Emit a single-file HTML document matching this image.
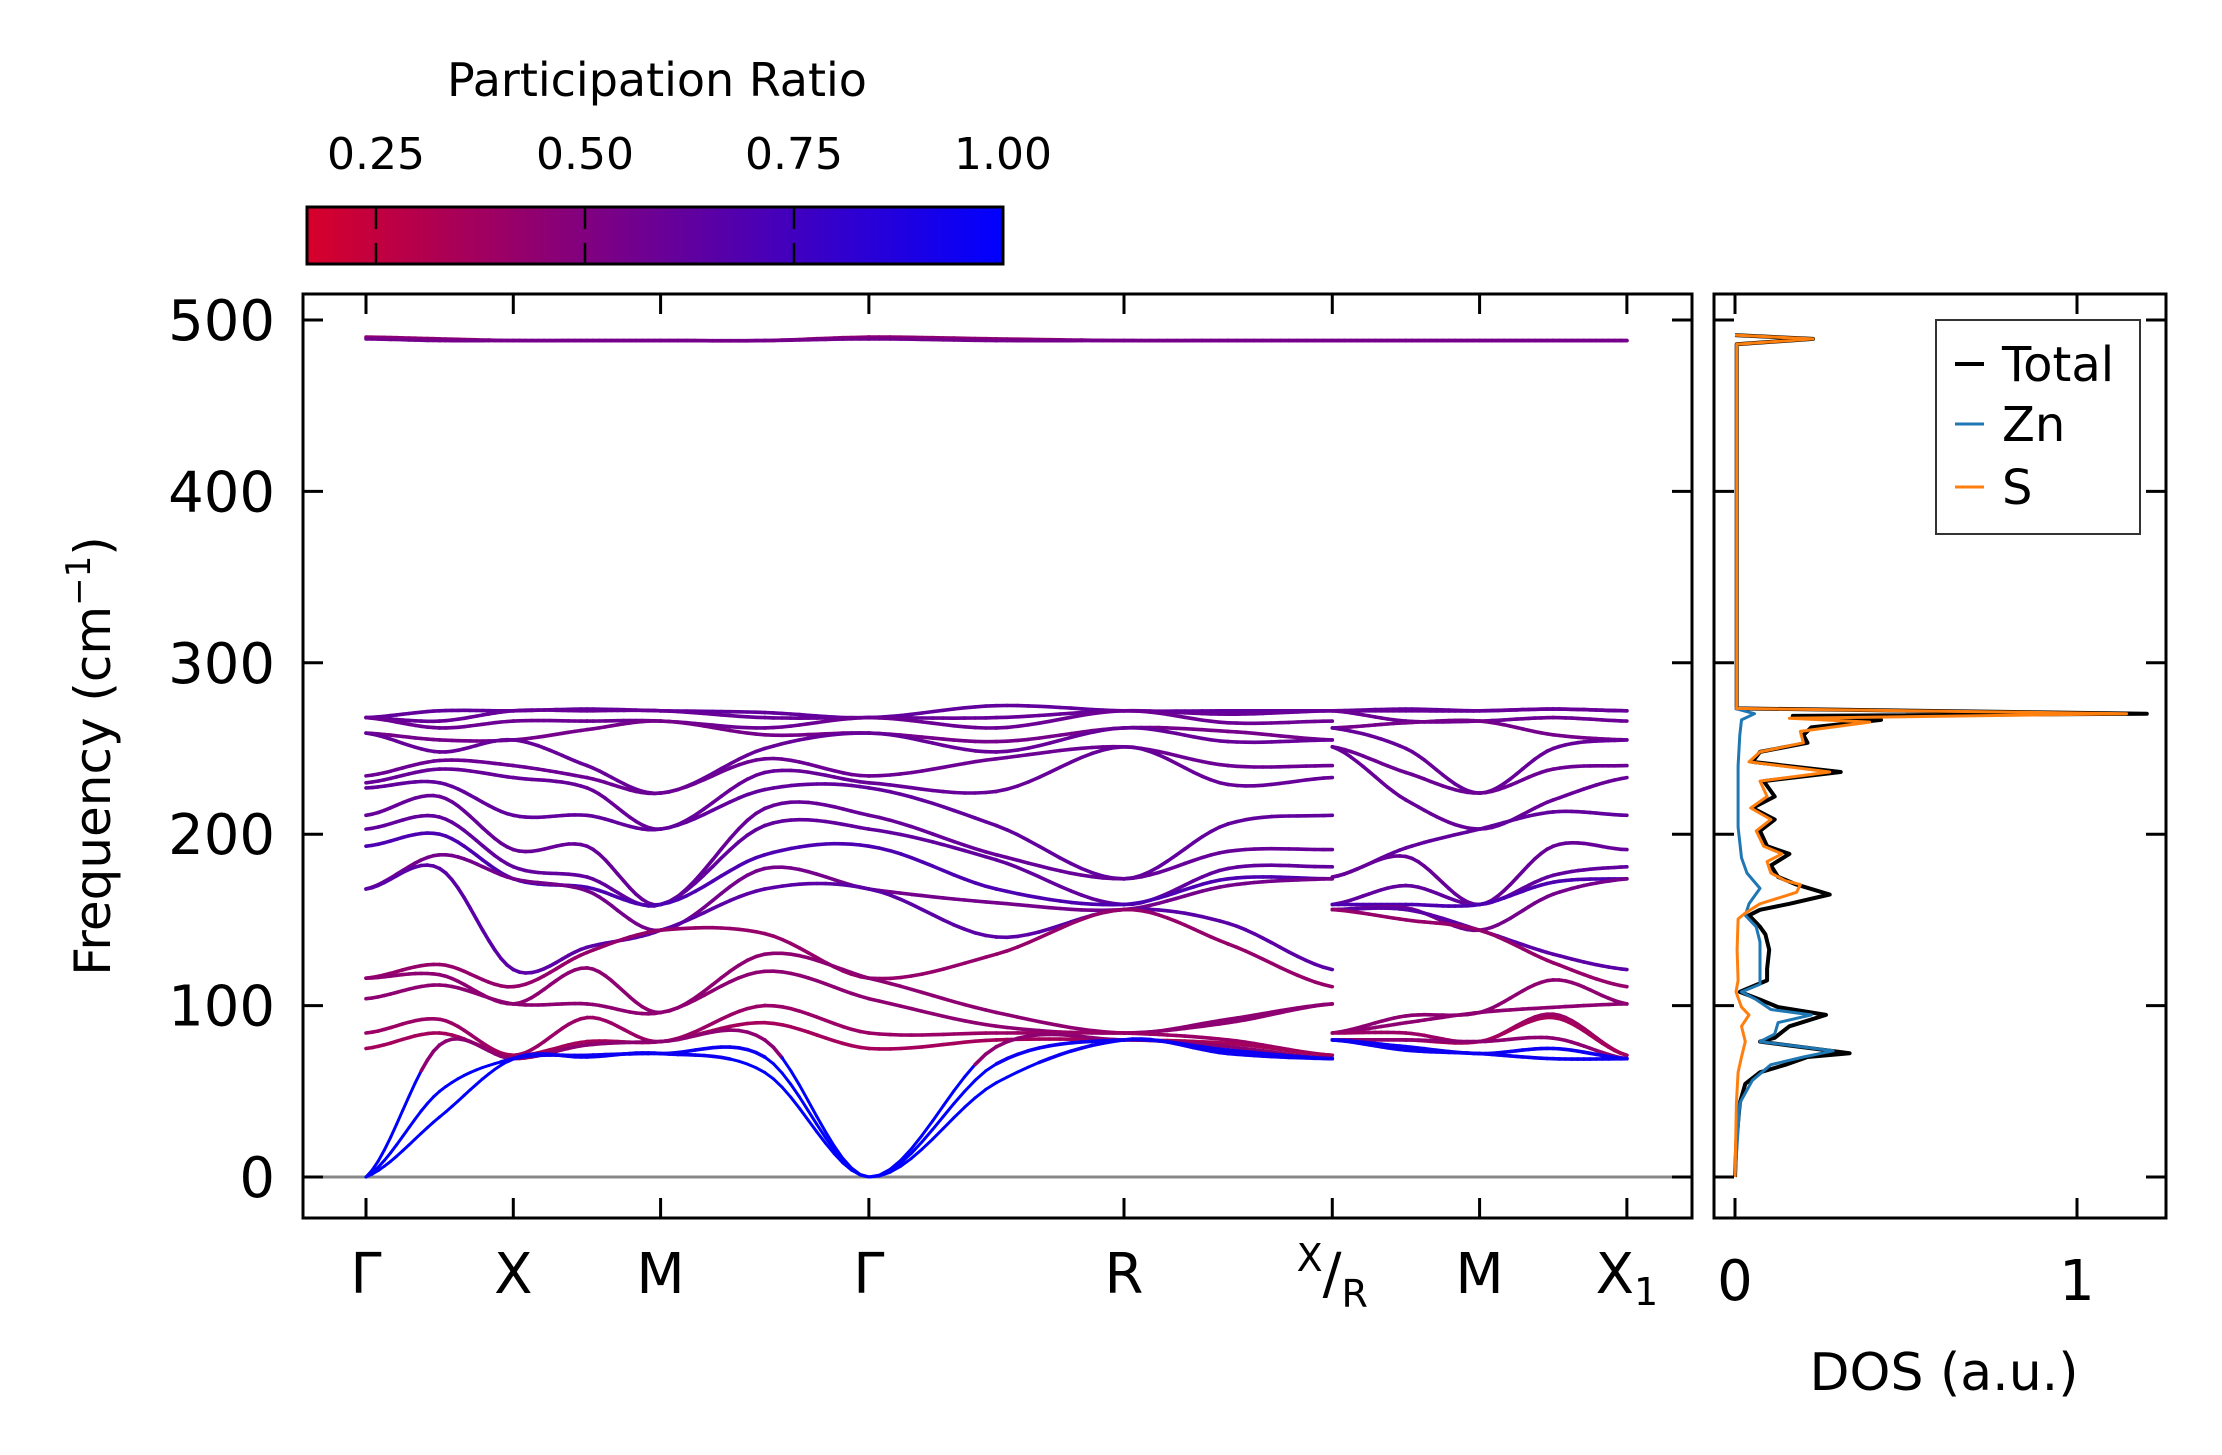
<!DOCTYPE html>
<html><head><meta charset="utf-8"><style>
html,body{margin:0;padding:0;background:#fff}
svg{display:block;font-family:"DejaVu Sans","Liberation Sans",sans-serif}
</style></head><body>
<svg id="fig" width="2222" height="1455" viewBox="0 0 2222 1455" xmlns="http://www.w3.org/2000/svg">
<defs>
<linearGradient id="cmap" x1="0" x2="1" y1="0" y2="0">
<stop offset="0" stop-color="rgb(215,0,42)"/><stop offset="1" stop-color="rgb(0,0,255)"/>
</linearGradient>
<clipPath id="mainclip"><rect x="303" y="294" width="1389" height="924"/></clipPath>
<clipPath id="dosclip"><rect x="1714" y="294" width="452" height="924"/></clipPath>
</defs>
<g>
<text x="657" y="96" font-size="46" text-anchor="middle">Participation Ratio</text>
<rect x="307" y="207" width="696" height="57" fill="url(#cmap)" stroke="#000" stroke-width="3"/>
<g id="cbticks"></g>
</g>
<g id="main">
<line x1="303" x2="1692" y1="1177" y2="1177" stroke="#888" stroke-width="3"/>
<g id="bands" clip-path="url(#mainclip)"></g>
<rect x="303" y="294" width="1389" height="924" fill="none" stroke="#000" stroke-width="3"/>
<g id="mainticks"></g>
<text transform="translate(110,756) rotate(-90)" font-size="50" text-anchor="middle">Frequency (cm<tspan dy="-20" font-size="34">−1</tspan><tspan dy="20">)</tspan></text>
</g>
<g id="dos">
<g id="doslines" clip-path="url(#dosclip)"></g>
<rect x="1714" y="294" width="452" height="924" fill="none" stroke="#000" stroke-width="3"/>
<g id="dosticks"></g>
<text x="1944" y="1390" font-size="52" text-anchor="middle">DOS (a.u.)</text>
<g>
<rect x="1936" y="320" width="204" height="214" fill="#fff" stroke="#333" stroke-width="2"/>
<line x1="1955" x2="1984" y1="364" y2="364" stroke="#000" stroke-width="4"/>
<text x="2002" y="381" font-size="48">Total</text>
<line x1="1955" x2="1984" y1="424" y2="424" stroke="#1f77b4" stroke-width="3"/>
<text x="2002" y="441" font-size="48">Zn</text>
<line x1="1955" x2="1984" y1="487" y2="487" stroke="#ff7f0e" stroke-width="3"/>
<text x="2002" y="504" font-size="48">S</text>
</g>
</g>
</svg>
<script>
const NS="http://www.w3.org/2000/svg";
// ---- data ----
const kNodes=[0,0.5,1,1.5,2,2.707,3.414,4.28,5.146,5.853,6.56,6.56,7.06,7.56,8.06,8.56];
const kTickPos=[0,1,2,3.414,5.146,6.56,7.56,8.56];
const kTickLabels=["Γ","X","M","Γ","R","X/R","M","X1"];
const yTicks=[0,100,200,300,400,500];
const cbTicks=[0.25,0.5,0.75,1.0];
const cbTickLabels=["0.25","0.50","0.75","1.00"];
const dosTicks=[0,1];
// sorted frequencies per node (Γ,m,X,m,M,m,Γ,m,R,m,X | R,m,M,m,X1)
const bandG=[268,268,268,259,259,234,230,227,211,203,193,168,168,116,116,104,84,75,0,0,0];
const bandMGX=[272,266,262,255,248,243,238,230,222,210,200,188,180,124,118,112,92,84,77,50,35];
const bandX=[272,272,266,255,255,240,233,211,191,181,174,174,121,111,101,101,71,71,69,69,69];
const bandMXM=[273,272,266,261,240,233,227,211,193,175,169,167,134,131,122,101,93,79,77,71,70];
const bandM=[272,272,266,266,224,224,203,203,159,159,159,144,144,144,96,96,79,79,79,72,72];
const bandMMG=[271,268,262,258,250,244,236,226,215,205,188,180,168,142,130,120,100,90,80,70,61];
const bandMGR=[275,268,262,254,248,244,225,205,188,185,168,160,140,130,96,88,84,80,76,66,55];
const bandR=[272,272,272,262,262,251,251,174,174,159,159,156,156,156,84,84,84,80,80,80,80];
const bandMRX=[272,270,265,260,254,240,229,206,190,180,174,170,148,136,92,90,80,78,76,74,72];
const bandR2=[272,272,272,262,262,251,251,175,175,159,159,156,156,156,84,84,84,80,80,80,80];
const bandMRM=[273,272,266,265,250,236,220,192,187,170,159,157,156,150,94,90,84,80,80,76,74];
const bandMMX=[273,273,268,258,250,238,220,213,193,176,172,165,130,125,115,99,95,93,81,75,69];
const topBands=[[490,489,488,488,488,488,490,489,488,488,488,488,488,488,488,488],
                [489,488,488,488,488,488,489,488,488,488,488,488,488,488,488,488]];
const bandPR=[0.62,0.6,0.58,0.55,0.6,0.58,0.6,0.62,0.6,0.62,0.7,0.55,0.65,0.42,0.45,0.45,0.4,0.36,0.45,0.95,0.95];
const topPR=[0.45,0.55];
// DOS
const dosTotF=[0,20.8,43.2,54.4,61.1,65.5,70,72.2,76.7,79,81.2,87.9,94.6,99.1,103.5,108,114.7,121.4,132.6,141.6,146,152.7,155.9,159.4,164.8,170.6,175.1,181.8,188.5,193,201.9,208.6,215.3,222,231,236.3,242.2,248,253.3,257.8,262.3,266.7,269,270.3,273.4,485.8,489,491.2];
const dosTotV=[0,.004,.014,.03,.073,.148,.212,.335,.159,.073,.116,.159,.266,.126,.073,.014,.094,.094,.1,.089,.073,.041,.073,.159,.277,.18,.126,.105,.159,.094,.073,.116,.051,.116,.084,.309,.051,.073,.212,.2,.223,.427,.169,1.204,.005,.005,.228,0];
const dosSF=[0,43.2,61.1,70,79,87.9,94.6,99.1,108,114.7,132.6,150.5,154,159.4,166.1,170.6,172.8,177.3,184,188.5,193,201.9,208.6,215.3,222,231,236.3,242.2,248,253.3,260,265.4,267.6,270.3,273.4,485.8,489,491.2];
const dosSV=[0,.004,.009,.019,.03,.019,.041,.019,.003,.009,.006,.009,.03,.073,.18,.191,.148,.105,.094,.137,.084,.062,.105,.046,.094,.073,.277,.041,.073,.2,.191,.394,.159,1.145,.005,.005,.228,0];
const dosZnF=[0,43.2,56.4,65.5,70,73.6,79,83.4,90.1,94.6,97.7,103.5,108,112.5,121.4,137.1,146,152.7,159.4,168.4,177.3,186.3,195.2,204.1,222,239.9,257.8,266.7,270.3,273.4];
const dosZnV=[0,.014,.051,.105,.2,.287,.073,.116,.126,.223,.105,.062,.019,.073,.073,.073,.062,.03,.041,.073,.035,.019,.014,.009,.009,.009,.014,.019,.057,0];
// ---- scales ----
const xk=k=>366+k*147.3;
const yf=f=>1177-f*1.714;
const xd=v=>1735+v*342;
const xcb=p=>376+(p-0.25)*836;
function prColor(p){const t=Math.max(0,Math.min(1,(p-0.167)/0.833));return `rgb(${Math.round(215*(1-t))},0,${Math.round(42+213*t)})`;}
function mk(tag,attrs,parent){const e=document.createElementNS(NS,tag);for(const a in attrs)e.setAttribute(a,attrs[a]);parent.appendChild(e);return e;}
// colorbar ticks
const cbg=document.getElementById('cbticks');
cbTicks.forEach((p,i)=>{
  const l=mk('line',{x1:xcb(p),x2:xcb(p),y1:207,y2:264,stroke:'#000','stroke-width':2.5,'stroke-dasharray':'22 14'},cbg);
  
  
  const t=mk('text',{x:xcb(p),y:169,'font-size':44,'text-anchor':'middle'},cbg);
  t.textContent=cbTickLabels[i];
  
  
});
// bands
const nodes=[bandG,bandMGX,bandX,bandMXM,bandM,bandMMG,bandG,bandMGR,bandR,bandMRX,bandX,bandR2,bandMRM,bandM,bandMMX,bandX];
const bg=document.getElementById('bands');
function cr(p0,p1,p2,p3,t){return 0.5*((2*p1)+(-p0+p2)*t+(2*p0-5*p1+4*p2-p3)*t*t+(-p0+3*p1-3*p2+p3)*t*t*t);}
function drawBand(vals,pr,name,acoustic){
  [[0,10],[11,15]].forEach(([a,b])=>{
    let prev=null;
    for(let i=a;i<b;i++){
      const f0=vals[Math.max(a,i-1)],f1=vals[i],f2=vals[i+1],f3=vals[Math.min(b,i+2)];
      for(let s=0;s<=12;s++){
        const t=s/12;const k=kNodes[i]+(kNodes[i+1]-kNodes[i])*t;const f=cr(f0,f1,f2,f3,t);
        const pt=[xk(k),yf(f),f];
        if(prev){
          const col=(acoustic&&f<68)?prColor(1.0):prColor(pr);
          const l=mk('line',{x1:prev[0].toFixed(1),y1:prev[1].toFixed(1),x2:pt[0].toFixed(1),y2:pt[1].toFixed(1),stroke:col,'stroke-width':acoustic&&f<68?3:3.6,'stroke-linecap':'round'},bg);
          
          
        }
        prev=pt;
      }
    }
  });
}
for(let b=0;b<21;b++){drawBand(nodes.map(n=>n[b]),bandPR[b],'phonon-band-'+(b+4),b>=18);}
topBands.forEach((v,i)=>drawBand(v,topPR[i],'phonon-band-top-'+(i+1),false));
// main ticks
const mt=document.getElementById('mainticks');
yTicks.forEach(v=>{
  [[303,323],[1692,1672]].forEach(([a,b])=>{const l=mk('line',{x1:a,x2:b,y1:yf(v),y2:yf(v),stroke:'#000','stroke-width':3},mt);
  
  });
  const t=mk('text',{x:275,y:yf(v)+20,'font-size':56,'text-anchor':'end'},mt);t.textContent=v;
  
  
});
kTickPos.forEach((k,i)=>{
  [[294,314],[1218,1198]].forEach(([a,b])=>{const l=mk('line',{x1:xk(k),x2:xk(k),y1:a,y2:b,stroke:'#000','stroke-width':3},mt);
  
  });
  const lab=kTickLabels[i];
  const t=mk('text',{x:xk(k),y:1293,'font-size':56,'text-anchor':'middle'},mt);
  
  
  if(lab==="X/R"){
    t.innerHTML='<tspan font-size="38" dy="-22">X</tspan><tspan dy="22">/</tspan><tspan font-size="38" dy="14">R</tspan>';
  }else if(lab==="X1"){
    t.innerHTML='X<tspan font-size="38" dy="12">1</tspan>';
  }else t.textContent=lab;
});
// DOS
const dl=document.getElementById('doslines');
function dosPath(F,V,col,w,name){
  const d=F.map((f,i)=>(i?'L':'M')+xd(V[i]).toFixed(1)+' '+yf(f).toFixed(1)).join(' ');
  const p=mk('path',{d:d,fill:'none',stroke:col,'stroke-width':w,'stroke-linejoin':'round'},dl);
  
  
}
dosPath(dosTotF,dosTotV,'#000',4,'dos-total-line');
dosPath(dosZnF,dosZnV,'#1f77b4',3,'dos-zn-line');
dosPath(dosSF,dosSV,'#ff7f0e',3,'dos-s-line');
const dt=document.getElementById('dosticks');
yTicks.forEach(v=>{
  [[1714,1734],[2166,2146]].forEach(([a,b])=>{const l=mk('line',{x1:a,x2:b,y1:yf(v),y2:yf(v),stroke:'#000','stroke-width':3},dt);
  
  });
});
dosTicks.forEach(v=>{
  [[294,314],[1218,1198]].forEach(([a,b])=>{const l=mk('line',{x1:xd(v),x2:xd(v),y1:a,y2:b,stroke:'#000','stroke-width':3},dt);
  
  });
  const t=mk('text',{x:xd(v),y:1300,'font-size':56,'text-anchor':'middle'},dt);t.textContent=v;
  
  
});
</script>
</body></html>
